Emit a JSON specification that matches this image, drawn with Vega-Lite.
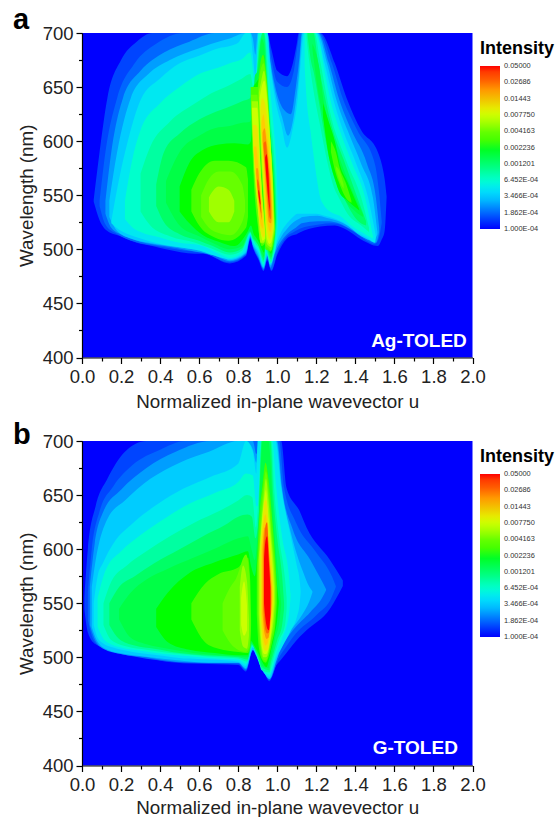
{"$schema":"https://vega.github.io/schema/vega-lite/v6.json","padding":{"left":13,"top":6,"right":0,"bottom":0},"background":"white","spacing":9,"config":{"view":{"fill":"#0000ff","stroke":null},"font":"Liberation Sans"},"resolve":{"scale":{"color":"independent"}},"datasets":{"a":[
{"i":0.000136,"g":"m05","u":0.06,"lo":544,"hi":546},{"i":0.000136,"g":"m05","u":0.09,"lo":527,"hi":590},{"i":0.000136,"g":"m05","u":0.13,"lo":517,"hi":640},{"i":0.000136,"g":"m05","u":0.2,"lo":512,"hi":675},{"i":0.000136,"g":"m05","u":0.28,"lo":506,"hi":692},{"i":0.000136,"g":"m05","u":0.36,"lo":503,"hi":700},{"i":0.000136,"g":"m05","u":0.43,"lo":500,"hi":700},{"i":0.000136,"g":"m05","u":0.58,"lo":496,"hi":700},{"i":0.000136,"g":"m05","u":0.62,"lo":496,"hi":700},{"i":0.000136,"g":"m05","u":0.757,"lo":487,"hi":700},{"i":0.000136,"g":"m05","u":0.84,"lo":494,"hi":700},{"i":0.000136,"g":"m05","u":0.862,"lo":509,"hi":700},{"i":0.000136,"g":"m05","u":0.878,"lo":500,"hi":700},{"i":0.000136,"g":"m05","u":0.905,"lo":490,"hi":700},{"i":0.000136,"g":"m05","u":0.93,"lo":480,"hi":700},{"i":0.000136,"g":"m05","u":0.948,"lo":490,"hi":700},{"i":0.000136,"g":"m05","u":0.97,"lo":480,"hi":685},{"i":0.000136,"g":"m05","u":1.0,"lo":495,"hi":665},{"i":0.000136,"g":"m05","u":1.05,"lo":510,"hi":660},{"i":0.000136,"g":"m05","u":1.08,"lo":513,"hi":672},{"i":0.000136,"g":"m05","u":1.1,"lo":514,"hi":690},{"i":0.000136,"g":"m05","u":1.11,"lo":515,"hi":700},{"i":0.000136,"g":"m05","u":1.22,"lo":521,"hi":700},{"i":0.000136,"g":"m05","u":1.295,"lo":522,"hi":672},{"i":0.000136,"g":"m05","u":1.355,"lo":518,"hi":640},{"i":0.000136,"g":"m05","u":1.43,"lo":509,"hi":610},{"i":0.000136,"g":"m05","u":1.515,"lo":503,"hi":590},{"i":0.000136,"g":"m05","u":1.535,"lo":509,"hi":579},{"i":0.000136,"g":"m05","u":1.55,"lo":517,"hi":565},{"i":0.000136,"g":"m05","u":1.56,"lo":548,"hi":549},
{"i":0.000186,"g":"m1","u":0.09,"lo":540,"hi":545},{"i":0.000186,"g":"m1","u":0.12,"lo":523,"hi":590},{"i":0.000186,"g":"m1","u":0.18,"lo":514,"hi":640},{"i":0.000186,"g":"m1","u":0.27,"lo":507,"hi":672},{"i":0.000186,"g":"m1","u":0.38,"lo":503,"hi":690},{"i":0.000186,"g":"m1","u":0.52,"lo":499,"hi":700},{"i":0.000186,"g":"m1","u":0.62,"lo":497,"hi":700},{"i":0.000186,"g":"m1","u":0.757,"lo":488,"hi":700},{"i":0.000186,"g":"m1","u":0.84,"lo":495,"hi":700},{"i":0.000186,"g":"m1","u":0.862,"lo":510,"hi":700},{"i":0.000186,"g":"m1","u":0.878,"lo":501,"hi":700},{"i":0.000186,"g":"m1","u":0.905,"lo":491,"hi":700},{"i":0.000186,"g":"m1","u":0.93,"lo":481,"hi":700},{"i":0.000186,"g":"m1","u":0.95,"lo":491,"hi":700},{"i":0.000186,"g":"m1","u":0.97,"lo":481,"hi":677},{"i":0.000186,"g":"m1","u":1.0,"lo":497,"hi":655},{"i":0.000186,"g":"m1","u":1.05,"lo":512,"hi":650},{"i":0.000186,"g":"m1","u":1.085,"lo":516,"hi":665},{"i":0.000186,"g":"m1","u":1.105,"lo":518,"hi":690},{"i":0.000186,"g":"m1","u":1.115,"lo":519,"hi":700},{"i":0.000186,"g":"m1","u":1.215,"lo":523,"hi":700},{"i":0.000186,"g":"m1","u":1.28,"lo":524,"hi":672},{"i":0.000186,"g":"m1","u":1.335,"lo":522,"hi":640},{"i":0.000186,"g":"m1","u":1.41,"lo":514,"hi":610},{"i":0.000186,"g":"m1","u":1.5,"lo":505,"hi":579},{"i":0.000186,"g":"m1","u":1.52,"lo":510,"hi":555},{"i":0.000186,"g":"m1","u":1.535,"lo":524,"hi":526},
{"i":0.000254,"g":"m15","u":0.12,"lo":533,"hi":545},{"i":0.000254,"g":"m15","u":0.15,"lo":520,"hi":590},{"i":0.000254,"g":"m15","u":0.21,"lo":513,"hi":640},{"i":0.000254,"g":"m15","u":0.3,"lo":507,"hi":665},{"i":0.000254,"g":"m15","u":0.42,"lo":503,"hi":682},{"i":0.000254,"g":"m15","u":0.55,"lo":499,"hi":692},{"i":0.000254,"g":"m15","u":0.68,"lo":494,"hi":700},{"i":0.000254,"g":"m15","u":0.757,"lo":489,"hi":700},{"i":0.000254,"g":"m15","u":0.84,"lo":496,"hi":700},{"i":0.000254,"g":"m15","u":0.862,"lo":511,"hi":700},{"i":0.000254,"g":"m15","u":0.878,"lo":502,"hi":700},{"i":0.000254,"g":"m15","u":0.905,"lo":492,"hi":700},{"i":0.000254,"g":"m15","u":0.93,"lo":482,"hi":700},{"i":0.000254,"g":"m15","u":0.95,"lo":493,"hi":700},{"i":0.000254,"g":"m15","u":0.965,"lo":483,"hi":675},{"i":0.000254,"g":"m15","u":0.99,"lo":497,"hi":650},{"i":0.000254,"g":"m15","u":1.03,"lo":510,"hi":630},{"i":0.000254,"g":"m15","u":1.07,"lo":517,"hi":625},{"i":0.000254,"g":"m15","u":1.095,"lo":520,"hi":650},{"i":0.000254,"g":"m15","u":1.115,"lo":523,"hi":680},{"i":0.000254,"g":"m15","u":1.125,"lo":524,"hi":700},{"i":0.000254,"g":"m15","u":1.21,"lo":526,"hi":700},{"i":0.000254,"g":"m15","u":1.265,"lo":526,"hi":672},{"i":0.000254,"g":"m15","u":1.315,"lo":524,"hi":640},{"i":0.000254,"g":"m15","u":1.38,"lo":518,"hi":610},{"i":0.000254,"g":"m15","u":1.46,"lo":509,"hi":579},{"i":0.000254,"g":"m15","u":1.505,"lo":506,"hi":548},{"i":0.000254,"g":"m15","u":1.522,"lo":516,"hi":520},
{"i":0.000347,"g":"m2","u":0.14,"lo":530,"hi":545},{"i":0.000347,"g":"m2","u":0.18,"lo":517,"hi":590},{"i":0.000347,"g":"m2","u":0.25,"lo":510,"hi":640},{"i":0.000347,"g":"m2","u":0.34,"lo":506,"hi":662},{"i":0.000347,"g":"m2","u":0.45,"lo":503,"hi":675},{"i":0.000347,"g":"m2","u":0.6,"lo":499,"hi":686},{"i":0.000347,"g":"m2","u":0.72,"lo":493,"hi":693},{"i":0.000347,"g":"m2","u":0.757,"lo":490,"hi":695},{"i":0.000347,"g":"m2","u":0.84,"lo":497,"hi":700},{"i":0.000347,"g":"m2","u":0.862,"lo":512,"hi":700},{"i":0.000347,"g":"m2","u":0.875,"lo":504,"hi":695},{"i":0.000347,"g":"m2","u":0.888,"lo":500,"hi":680},{"i":0.000347,"g":"m2","u":0.9,"lo":496,"hi":700},{"i":0.000347,"g":"m2","u":0.93,"lo":483,"hi":700},{"i":0.000347,"g":"m2","u":0.95,"lo":494,"hi":700},{"i":0.000347,"g":"m2","u":0.965,"lo":485,"hi":672},{"i":0.000347,"g":"m2","u":0.99,"lo":500,"hi":645},{"i":0.000347,"g":"m2","u":1.025,"lo":513,"hi":622},{"i":0.000347,"g":"m2","u":1.055,"lo":520,"hi":605},{"i":0.000347,"g":"m2","u":1.09,"lo":526,"hi":630},{"i":0.000347,"g":"m2","u":1.11,"lo":528,"hi":660},{"i":0.000347,"g":"m2","u":1.13,"lo":530,"hi":700},{"i":0.000347,"g":"m2","u":1.205,"lo":531,"hi":700},{"i":0.000347,"g":"m2","u":1.255,"lo":529,"hi":672},{"i":0.000347,"g":"m2","u":1.3,"lo":527,"hi":640},{"i":0.000347,"g":"m2","u":1.36,"lo":522,"hi":610},{"i":0.000347,"g":"m2","u":1.43,"lo":512,"hi":579},{"i":0.000347,"g":"m2","u":1.49,"lo":508,"hi":548},{"i":0.000347,"g":"m2","u":1.513,"lo":514,"hi":516},
{"i":0.000473,"g":"m25","u":0.15,"lo":524,"hi":526},{"i":0.000473,"g":"m25","u":0.19,"lo":518,"hi":565},{"i":0.000473,"g":"m25","u":0.236,"lo":514,"hi":601},{"i":0.000473,"g":"m25","u":0.3,"lo":510,"hi":638},{"i":0.000473,"g":"m25","u":0.4,"lo":505,"hi":658},{"i":0.000473,"g":"m25","u":0.5,"lo":502,"hi":672},{"i":0.000473,"g":"m25","u":0.6,"lo":499,"hi":679},{"i":0.000473,"g":"m25","u":0.7,"lo":493,"hi":686},{"i":0.000473,"g":"m25","u":0.757,"lo":491,"hi":688},{"i":0.000473,"g":"m25","u":0.8,"lo":493,"hi":691},{"i":0.000473,"g":"m25","u":0.84,"lo":499,"hi":700},{"i":0.000473,"g":"m25","u":0.862,"lo":513,"hi":700},{"i":0.000473,"g":"m25","u":0.875,"lo":506,"hi":680},{"i":0.000473,"g":"m25","u":0.888,"lo":502,"hi":660},{"i":0.000473,"g":"m25","u":0.905,"lo":497,"hi":700},{"i":0.000473,"g":"m25","u":0.93,"lo":484,"hi":700},{"i":0.000473,"g":"m25","u":0.948,"lo":496,"hi":700},{"i":0.000473,"g":"m25","u":0.963,"lo":486,"hi":672},{"i":0.000473,"g":"m25","u":0.988,"lo":502,"hi":640},{"i":0.000473,"g":"m25","u":1.02,"lo":516,"hi":616},{"i":0.000473,"g":"m25","u":1.05,"lo":524,"hi":594},{"i":0.000473,"g":"m25","u":1.08,"lo":530,"hi":612},{"i":0.000473,"g":"m25","u":1.105,"lo":533,"hi":640},{"i":0.000473,"g":"m25","u":1.12,"lo":533,"hi":672},{"i":0.000473,"g":"m25","u":1.137,"lo":533,"hi":700},{"i":0.000473,"g":"m25","u":1.2,"lo":533,"hi":700},{"i":0.000473,"g":"m25","u":1.243,"lo":531,"hi":672},{"i":0.000473,"g":"m25","u":1.285,"lo":529,"hi":640},{"i":0.000473,"g":"m25","u":1.337,"lo":525,"hi":610},{"i":0.000473,"g":"m25","u":1.405,"lo":516,"hi":579},{"i":0.000473,"g":"m25","u":1.465,"lo":510,"hi":548},{"i":0.000473,"g":"m25","u":1.5,"lo":506,"hi":517},{"i":0.000473,"g":"m25","u":1.505,"lo":511,"hi":512},
{"i":0.000645,"g":"m3","u":0.22,"lo":528,"hi":545},{"i":0.000645,"g":"m3","u":0.26,"lo":520,"hi":585},{"i":0.000645,"g":"m3","u":0.3,"lo":516,"hi":610},{"i":0.000645,"g":"m3","u":0.4,"lo":511,"hi":635},{"i":0.000645,"g":"m3","u":0.5,"lo":506,"hi":650},{"i":0.000645,"g":"m3","u":0.6,"lo":504,"hi":662},{"i":0.000645,"g":"m3","u":0.7,"lo":496,"hi":668},{"i":0.000645,"g":"m3","u":0.757,"lo":492,"hi":672},{"i":0.000645,"g":"m3","u":0.82,"lo":497,"hi":676},{"i":0.000645,"g":"m3","u":0.862,"lo":514,"hi":682},{"i":0.000645,"g":"m3","u":0.875,"lo":508,"hi":665},{"i":0.000645,"g":"m3","u":0.888,"lo":503,"hi":640},{"i":0.000645,"g":"m3","u":0.905,"lo":499,"hi":700},{"i":0.000645,"g":"m3","u":0.93,"lo":486,"hi":700},{"i":0.000645,"g":"m3","u":0.945,"lo":498,"hi":700},{"i":0.000645,"g":"m3","u":0.955,"lo":492,"hi":672},{"i":0.000645,"g":"m3","u":0.968,"lo":487,"hi":640},{"i":0.000645,"g":"m3","u":0.98,"lo":493,"hi":616},{"i":0.000645,"g":"m3","u":0.995,"lo":505,"hi":580},{"i":0.000645,"g":"m3","u":1.003,"lo":522,"hi":540},
{"i":0.000645,"g":"r3","u":1.14,"lo":670,"hi":700},{"i":0.000645,"g":"r3","u":1.15,"lo":640,"hi":700},{"i":0.000645,"g":"r3","u":1.17,"lo":610,"hi":700},{"i":0.000645,"g":"r3","u":1.195,"lo":575,"hi":700},{"i":0.000645,"g":"r3","u":1.22,"lo":548,"hi":688},{"i":0.000645,"g":"r3","u":1.235,"lo":542,"hi":672},{"i":0.000645,"g":"r3","u":1.27,"lo":535,"hi":640},{"i":0.000645,"g":"r3","u":1.32,"lo":531,"hi":610},{"i":0.000645,"g":"r3","u":1.385,"lo":521,"hi":579},{"i":0.000645,"g":"r3","u":1.45,"lo":514,"hi":548},{"i":0.000645,"g":"r3","u":1.49,"lo":510,"hi":512},
{"i":0.00088,"g":"m35","u":0.3,"lo":535,"hi":570},{"i":0.00088,"g":"m35","u":0.35,"lo":522,"hi":595},{"i":0.00088,"g":"m35","u":0.45,"lo":512,"hi":618},{"i":0.00088,"g":"m35","u":0.58,"lo":506,"hi":635},{"i":0.00088,"g":"m35","u":0.66,"lo":501,"hi":644},{"i":0.00088,"g":"m35","u":0.757,"lo":495,"hi":652},{"i":0.00088,"g":"m35","u":0.82,"lo":499,"hi":658},{"i":0.00088,"g":"m35","u":0.862,"lo":515,"hi":662},{"i":0.00088,"g":"m35","u":0.875,"lo":509,"hi":650},{"i":0.00088,"g":"m35","u":0.888,"lo":505,"hi":640},{"i":0.00088,"g":"m35","u":0.905,"lo":501,"hi":690},{"i":0.00088,"g":"m35","u":0.93,"lo":488,"hi":700},{"i":0.00088,"g":"m35","u":0.94,"lo":500,"hi":695},{"i":0.00088,"g":"m35","u":0.948,"lo":497,"hi":672},{"i":0.00088,"g":"m35","u":0.958,"lo":492,"hi":640},{"i":0.00088,"g":"m35","u":0.968,"lo":488,"hi":616},{"i":0.00088,"g":"m35","u":0.978,"lo":495,"hi":600},{"i":0.00088,"g":"m35","u":0.99,"lo":508,"hi":570},{"i":0.00088,"g":"m35","u":0.998,"lo":522,"hi":535},
{"i":0.00088,"g":"r35","u":1.15,"lo":695,"hi":700},{"i":0.00088,"g":"r35","u":1.165,"lo":672,"hi":700},{"i":0.00088,"g":"r35","u":1.19,"lo":642,"hi":700},{"i":0.00088,"g":"r35","u":1.22,"lo":614,"hi":674},{"i":0.00088,"g":"r35","u":1.255,"lo":582,"hi":640},{"i":0.00088,"g":"r35","u":1.295,"lo":555,"hi":610},{"i":0.00088,"g":"r35","u":1.315,"lo":548,"hi":600},{"i":0.00088,"g":"r35","u":1.36,"lo":533,"hi":579},{"i":0.00088,"g":"r35","u":1.43,"lo":522,"hi":548},{"i":0.00088,"g":"r35","u":1.47,"lo":516,"hi":520},
{"i":0.0012,"g":"m4","u":0.38,"lo":540,"hi":560},{"i":0.0012,"g":"m4","u":0.42,"lo":525,"hi":590},{"i":0.0012,"g":"m4","u":0.5,"lo":514,"hi":607},{"i":0.0012,"g":"m4","u":0.6,"lo":508,"hi":620},{"i":0.0012,"g":"m4","u":0.67,"lo":503,"hi":626},{"i":0.0012,"g":"m4","u":0.757,"lo":497,"hi":632},{"i":0.0012,"g":"m4","u":0.82,"lo":501,"hi":637},{"i":0.0012,"g":"m4","u":0.862,"lo":516,"hi":640},{"i":0.0012,"g":"m4","u":0.875,"lo":510,"hi":650},{"i":0.0012,"g":"m4","u":0.89,"lo":507,"hi":655},{"i":0.0012,"g":"m4","u":0.905,"lo":503,"hi":680},{"i":0.0012,"g":"m4","u":0.925,"lo":492,"hi":700},{"i":0.0012,"g":"m4","u":0.932,"lo":490,"hi":700},{"i":0.0012,"g":"m4","u":0.94,"lo":502,"hi":685},{"i":0.0012,"g":"m4","u":0.948,"lo":500,"hi":655},{"i":0.0012,"g":"m4","u":0.958,"lo":494,"hi":628},{"i":0.0012,"g":"m4","u":0.968,"lo":491,"hi":605},{"i":0.0012,"g":"m4","u":0.978,"lo":498,"hi":585},{"i":0.0012,"g":"m4","u":0.988,"lo":510,"hi":562},{"i":0.0012,"g":"m4","u":0.994,"lo":525,"hi":535},
{"i":0.0012,"g":"r4","u":1.155,"lo":698,"hi":700},{"i":0.0012,"g":"r4","u":1.175,"lo":672,"hi":700},{"i":0.0012,"g":"r4","u":1.185,"lo":665,"hi":700},{"i":0.0012,"g":"r4","u":1.21,"lo":640,"hi":672},{"i":0.0012,"g":"r4","u":1.245,"lo":603,"hi":640},{"i":0.0012,"g":"r4","u":1.285,"lo":570,"hi":610},{"i":0.0012,"g":"r4","u":1.34,"lo":548,"hi":583},{"i":0.0012,"g":"r4","u":1.41,"lo":527,"hi":548},{"i":0.0012,"g":"r4","u":1.455,"lo":522,"hi":526},
{"i":0.00164,"g":"m45","u":0.43,"lo":543,"hi":563},{"i":0.00164,"g":"m45","u":0.5,"lo":522,"hi":590},{"i":0.00164,"g":"m45","u":0.6,"lo":512,"hi":605},{"i":0.00164,"g":"m45","u":0.68,"lo":505,"hi":612},{"i":0.00164,"g":"m45","u":0.757,"lo":500,"hi":614},{"i":0.00164,"g":"m45","u":0.82,"lo":503,"hi":617},{"i":0.00164,"g":"m45","u":0.86,"lo":517,"hi":618},{"i":0.00164,"g":"m45","u":0.875,"lo":512,"hi":630},{"i":0.00164,"g":"m45","u":0.885,"lo":509,"hi":660},{"i":0.00164,"g":"m45","u":0.9,"lo":505,"hi":665},{"i":0.00164,"g":"m45","u":0.92,"lo":497,"hi":695},{"i":0.00164,"g":"m45","u":0.932,"lo":493,"hi":690},{"i":0.00164,"g":"m45","u":0.94,"lo":504,"hi":670},{"i":0.00164,"g":"m45","u":0.948,"lo":502,"hi":645},{"i":0.00164,"g":"m45","u":0.958,"lo":497,"hi":620},{"i":0.00164,"g":"m45","u":0.968,"lo":493,"hi":598},{"i":0.00164,"g":"m45","u":0.978,"lo":500,"hi":578},{"i":0.00164,"g":"m45","u":0.986,"lo":512,"hi":555},{"i":0.00164,"g":"m45","u":0.991,"lo":525,"hi":532},
{"i":0.00164,"g":"r45","u":1.18,"lo":685,"hi":690},{"i":0.00164,"g":"r45","u":1.215,"lo":640,"hi":668},{"i":0.00164,"g":"r45","u":1.235,"lo":622,"hi":640},{"i":0.00164,"g":"r45","u":1.275,"lo":585,"hi":610},{"i":0.00164,"g":"r45","u":1.33,"lo":552,"hi":579},{"i":0.00164,"g":"r45","u":1.4,"lo":535,"hi":548},{"i":0.00164,"g":"r45","u":1.44,"lo":530,"hi":532},
{"i":0.00224,"g":"m5","u":0.5,"lo":535,"hi":558},{"i":0.00224,"g":"m5","u":0.55,"lo":524,"hi":580},{"i":0.00224,"g":"m5","u":0.62,"lo":513,"hi":592},{"i":0.00224,"g":"m5","u":0.7,"lo":507,"hi":597},{"i":0.00224,"g":"m5","u":0.78,"lo":503,"hi":598},{"i":0.00224,"g":"m5","u":0.85,"lo":517,"hi":597},{"i":0.00224,"g":"m5","u":0.865,"lo":522,"hi":600},{"i":0.00224,"g":"m5","u":0.88,"lo":514,"hi":650},{"i":0.00224,"g":"m5","u":0.895,"lo":510,"hi":655},{"i":0.00224,"g":"m5","u":0.91,"lo":505,"hi":660},{"i":0.00224,"g":"m5","u":0.925,"lo":499,"hi":675},{"i":0.00224,"g":"m5","u":0.932,"lo":497,"hi":680},{"i":0.00224,"g":"m5","u":0.94,"lo":506,"hi":655},{"i":0.00224,"g":"m5","u":0.948,"lo":504,"hi":635},{"i":0.00224,"g":"m5","u":0.958,"lo":499,"hi":615},{"i":0.00224,"g":"m5","u":0.968,"lo":496,"hi":595},{"i":0.00224,"g":"m5","u":0.978,"lo":503,"hi":570},{"i":0.00224,"g":"m5","u":0.986,"lo":515,"hi":545},{"i":0.00224,"g":"m5","u":0.99,"lo":528,"hi":530},
{"i":0.00224,"g":"r5","u":1.235,"lo":622,"hi":635},{"i":0.00224,"g":"r5","u":1.26,"lo":590,"hi":620},{"i":0.00224,"g":"r5","u":1.295,"lo":565,"hi":600},{"i":0.00224,"g":"r5","u":1.32,"lo":552,"hi":579},{"i":0.00224,"g":"r5","u":1.36,"lo":545,"hi":562},{"i":0.00224,"g":"r5","u":1.42,"lo":536,"hi":537},
{"i":0.00305,"g":"d55","u":0.56,"lo":535,"hi":555},{"i":0.00305,"g":"d55","u":0.6,"lo":522,"hi":570},{"i":0.00305,"g":"d55","u":0.68,"lo":511,"hi":582},{"i":0.00305,"g":"d55","u":0.75,"lo":508,"hi":582},{"i":0.00305,"g":"d55","u":0.84,"lo":520,"hi":576},{"i":0.00305,"g":"d55","u":0.85,"lo":530,"hi":565},
{"i":0.00305,"g":"r55","u":1.275,"lo":590,"hi":600},{"i":0.00305,"g":"r55","u":1.3,"lo":570,"hi":590},{"i":0.00305,"g":"r55","u":1.32,"lo":560,"hi":575},{"i":0.00305,"g":"r55","u":1.35,"lo":548,"hi":562},{"i":0.00305,"g":"r55","u":1.38,"lo":543,"hi":545},
{"i":0.00305,"g":"A55","u":0.864,"lo":640,"hi":650},{"i":0.00305,"g":"A55","u":0.879,"lo":566,"hi":650},{"i":0.00305,"g":"A55","u":0.895,"lo":530,"hi":650},{"i":0.00305,"g":"A55","u":0.906,"lo":515,"hi":650},{"i":0.00305,"g":"A55","u":0.92,"lo":503,"hi":566},{"i":0.00305,"g":"A55","u":0.935,"lo":505,"hi":530},{"i":0.00305,"g":"A55","u":0.948,"lo":510,"hi":512},
{"i":0.00305,"g":"B55","u":0.9,"lo":640,"hi":650},{"i":0.00305,"g":"B55","u":0.912,"lo":590,"hi":670},{"i":0.00305,"g":"B55","u":0.928,"lo":545,"hi":680},{"i":0.00305,"g":"B55","u":0.94,"lo":500,"hi":668},{"i":0.00305,"g":"B55","u":0.954,"lo":499,"hi":640},{"i":0.00305,"g":"B55","u":0.966,"lo":498,"hi":598},{"i":0.00305,"g":"B55","u":0.978,"lo":503,"hi":566},{"i":0.00305,"g":"B55","u":0.989,"lo":515,"hi":520},
{"i":0.00416,"g":"d6","u":0.61,"lo":530,"hi":550},{"i":0.00416,"g":"d6","u":0.65,"lo":520,"hi":565},{"i":0.00416,"g":"d6","u":0.7,"lo":515,"hi":572},{"i":0.00416,"g":"d6","u":0.76,"lo":513,"hi":572},{"i":0.00416,"g":"d6","u":0.82,"lo":525,"hi":560},{"i":0.00416,"g":"d6","u":0.835,"lo":535,"hi":545},
{"i":0.00416,"g":"r6","u":1.3,"lo":574,"hi":577},{"i":0.00416,"g":"r6","u":1.32,"lo":563,"hi":572},{"i":0.00416,"g":"r6","u":1.34,"lo":556,"hi":560},
{"i":0.00416,"g":"A6","u":0.866,"lo":635,"hi":643},{"i":0.00416,"g":"A6","u":0.882,"lo":566,"hi":643},{"i":0.00416,"g":"A6","u":0.898,"lo":530,"hi":643},{"i":0.00416,"g":"A6","u":0.912,"lo":508,"hi":580},{"i":0.00416,"g":"A6","u":0.925,"lo":505,"hi":545},{"i":0.00416,"g":"A6","u":0.94,"lo":508,"hi":512},
{"i":0.00416,"g":"B6","u":0.903,"lo":640,"hi":648},{"i":0.00416,"g":"B6","u":0.914,"lo":590,"hi":665},{"i":0.00416,"g":"B6","u":0.93,"lo":545,"hi":672},{"i":0.00416,"g":"B6","u":0.942,"lo":503,"hi":660},{"i":0.00416,"g":"B6","u":0.955,"lo":501,"hi":630},{"i":0.00416,"g":"B6","u":0.967,"lo":499,"hi":595},{"i":0.00416,"g":"B6","u":0.977,"lo":505,"hi":566},{"i":0.00416,"g":"B6","u":0.987,"lo":517,"hi":522},
{"i":0.00568,"g":"d65","u":0.65,"lo":535,"hi":548},{"i":0.00568,"g":"d65","u":0.7,"lo":525,"hi":558},{"i":0.00568,"g":"d65","u":0.75,"lo":525,"hi":555},{"i":0.00568,"g":"d65","u":0.78,"lo":535,"hi":545},
{"i":0.00568,"g":"A65","u":0.869,"lo":630,"hi":637},{"i":0.00568,"g":"A65","u":0.885,"lo":566,"hi":637},{"i":0.00568,"g":"A65","u":0.9,"lo":537,"hi":637},{"i":0.00568,"g":"A65","u":0.915,"lo":506,"hi":575},{"i":0.00568,"g":"A65","u":0.93,"lo":506,"hi":535},{"i":0.00568,"g":"A65","u":0.94,"lo":510,"hi":514},
{"i":0.00568,"g":"B65","u":0.906,"lo":640,"hi":645},{"i":0.00568,"g":"B65","u":0.917,"lo":590,"hi":655},{"i":0.00568,"g":"B65","u":0.932,"lo":545,"hi":665},{"i":0.00568,"g":"B65","u":0.945,"lo":506,"hi":650},{"i":0.00568,"g":"B65","u":0.957,"lo":503,"hi":620},{"i":0.00568,"g":"B65","u":0.968,"lo":502,"hi":590},{"i":0.00568,"g":"B65","u":0.976,"lo":508,"hi":566},{"i":0.00568,"g":"B65","u":0.985,"lo":518,"hi":522},
{"i":0.00775,"g":"A7","u":0.871,"lo":625,"hi":631},{"i":0.00775,"g":"A7","u":0.887,"lo":566,"hi":631},{"i":0.00775,"g":"A7","u":0.897,"lo":545,"hi":631},{"i":0.00775,"g":"A7","u":0.91,"lo":523,"hi":590},{"i":0.00775,"g":"A7","u":0.925,"lo":508,"hi":541},{"i":0.00775,"g":"A7","u":0.937,"lo":510,"hi":515},
{"i":0.00775,"g":"B7","u":0.91,"lo":635,"hi":640},{"i":0.00775,"g":"B7","u":0.92,"lo":590,"hi":650},{"i":0.00775,"g":"B7","u":0.934,"lo":545,"hi":656},{"i":0.00775,"g":"B7","u":0.947,"lo":510,"hi":640},{"i":0.00775,"g":"B7","u":0.96,"lo":505,"hi":612},{"i":0.00775,"g":"B7","u":0.97,"lo":507,"hi":585},{"i":0.00775,"g":"B7","u":0.975,"lo":512,"hi":566},{"i":0.00775,"g":"B7","u":0.982,"lo":520,"hi":525},
{"i":0.0106,"g":"A75","u":0.875,"lo":605,"hi":615},{"i":0.0106,"g":"A75","u":0.889,"lo":566,"hi":615},{"i":0.0106,"g":"A75","u":0.899,"lo":545,"hi":612},{"i":0.0106,"g":"A75","u":0.915,"lo":517,"hi":558},{"i":0.0106,"g":"A75","u":0.93,"lo":511,"hi":532},{"i":0.0106,"g":"A75","u":0.937,"lo":513,"hi":515},
{"i":0.0106,"g":"B75","u":0.914,"lo":625,"hi":630},{"i":0.0106,"g":"B75","u":0.923,"lo":590,"hi":640},{"i":0.0106,"g":"B75","u":0.937,"lo":545,"hi":635},{"i":0.0106,"g":"B75","u":0.95,"lo":515,"hi":618},{"i":0.0106,"g":"B75","u":0.962,"lo":509,"hi":595},{"i":0.0106,"g":"B75","u":0.972,"lo":512,"hi":565},{"i":0.0106,"g":"B75","u":0.98,"lo":522,"hi":525},
{"i":0.0144,"g":"A8","u":0.88,"lo":590,"hi":595},{"i":0.0144,"g":"A8","u":0.892,"lo":566,"hi":595},{"i":0.0144,"g":"A8","u":0.902,"lo":545,"hi":580},{"i":0.0144,"g":"A8","u":0.915,"lo":523,"hi":551},{"i":0.0144,"g":"A8","u":0.928,"lo":519,"hi":522},
{"i":0.0144,"g":"B8","u":0.92,"lo":610,"hi":618},{"i":0.0144,"g":"B8","u":0.93,"lo":585,"hi":625},{"i":0.0144,"g":"B8","u":0.94,"lo":545,"hi":612},{"i":0.0144,"g":"B8","u":0.955,"lo":520,"hi":595},{"i":0.0144,"g":"B8","u":0.965,"lo":516,"hi":575},{"i":0.0144,"g":"B8","u":0.972,"lo":522,"hi":545},{"i":0.0144,"g":"B8","u":0.977,"lo":528,"hi":530},
{"i":0.0197,"g":"A85","u":0.892,"lo":570,"hi":575},{"i":0.0197,"g":"A85","u":0.9,"lo":553,"hi":575},{"i":0.0197,"g":"A85","u":0.91,"lo":538,"hi":558},{"i":0.0197,"g":"A85","u":0.922,"lo":527,"hi":530},
{"i":0.0197,"g":"B85","u":0.925,"lo":600,"hi":608},{"i":0.0197,"g":"B85","u":0.935,"lo":575,"hi":612},{"i":0.0197,"g":"B85","u":0.945,"lo":548,"hi":600},{"i":0.0197,"g":"B85","u":0.958,"lo":525,"hi":578},{"i":0.0197,"g":"B85","u":0.968,"lo":524,"hi":555},{"i":0.0197,"g":"B85","u":0.972,"lo":530,"hi":535},
{"i":0.0269,"g":"A9","u":0.897,"lo":560,"hi":565},{"i":0.0269,"g":"A9","u":0.905,"lo":548,"hi":562},{"i":0.0269,"g":"A9","u":0.913,"lo":537,"hi":548},{"i":0.0269,"g":"A9","u":0.918,"lo":533,"hi":535},
{"i":0.0269,"g":"B9","u":0.93,"lo":595,"hi":598},{"i":0.0269,"g":"B9","u":0.94,"lo":572,"hi":600},{"i":0.0269,"g":"B9","u":0.95,"lo":548,"hi":585},{"i":0.0269,"g":"B9","u":0.96,"lo":530,"hi":565},{"i":0.0269,"g":"B9","u":0.967,"lo":528,"hi":540},
{"i":0.05,"g":"A95","u":0.903,"lo":552,"hi":555},{"i":0.05,"g":"A95","u":0.908,"lo":545,"hi":553},{"i":0.05,"g":"A95","u":0.914,"lo":541,"hi":543},
{"i":0.05,"g":"B95","u":0.938,"lo":583,"hi":585},{"i":0.05,"g":"B95","u":0.945,"lo":565,"hi":588},{"i":0.05,"g":"B95","u":0.955,"lo":545,"hi":570},{"i":0.05,"g":"B95","u":0.962,"lo":535,"hi":540}
],"b":[
{"i":0.000136,"g":"m05","u":0.012,"lo":545,"hi":555},{"i":0.000136,"g":"m05","u":0.03,"lo":523,"hi":600},{"i":0.000136,"g":"m05","u":0.07,"lo":512,"hi":640},{"i":0.000136,"g":"m05","u":0.13,"lo":508,"hi":665},{"i":0.000136,"g":"m05","u":0.22,"lo":503,"hi":690},{"i":0.000136,"g":"m05","u":0.33,"lo":500,"hi":700},{"i":0.000136,"g":"m05","u":0.43,"lo":496,"hi":700},{"i":0.000136,"g":"m05","u":0.6,"lo":494,"hi":700},{"i":0.000136,"g":"m05","u":0.8,"lo":493,"hi":700},{"i":0.000136,"g":"m05","u":0.84,"lo":487,"hi":700},{"i":0.000136,"g":"m05","u":0.875,"lo":506,"hi":700},{"i":0.000136,"g":"m05","u":0.92,"lo":492,"hi":700},{"i":0.000136,"g":"m05","u":0.96,"lo":478,"hi":700},{"i":0.000136,"g":"m05","u":0.99,"lo":491,"hi":700},{"i":0.000136,"g":"m05","u":1.02,"lo":498,"hi":700},{"i":0.000136,"g":"m05","u":1.047,"lo":504,"hi":657},{"i":0.000136,"g":"m05","u":1.115,"lo":519,"hi":635},{"i":0.000136,"g":"m05","u":1.15,"lo":525,"hi":620},{"i":0.000136,"g":"m05","u":1.27,"lo":545,"hi":590},{"i":0.000136,"g":"m05","u":1.336,"lo":566,"hi":571},
{"i":0.000186,"g":"m1","u":0.03,"lo":535,"hi":560},{"i":0.000186,"g":"m1","u":0.05,"lo":520,"hi":600},{"i":0.000186,"g":"m1","u":0.09,"lo":510,"hi":635},{"i":0.000186,"g":"m1","u":0.16,"lo":505,"hi":658},{"i":0.000186,"g":"m1","u":0.26,"lo":501,"hi":678},{"i":0.000186,"g":"m1","u":0.4,"lo":497,"hi":692},{"i":0.000186,"g":"m1","u":0.53,"lo":495,"hi":700},{"i":0.000186,"g":"m1","u":0.8,"lo":494,"hi":700},{"i":0.000186,"g":"m1","u":0.84,"lo":488,"hi":700},{"i":0.000186,"g":"m1","u":0.875,"lo":507,"hi":700},{"i":0.000186,"g":"m1","u":0.92,"lo":494,"hi":700},{"i":0.000186,"g":"m1","u":0.96,"lo":479,"hi":700},{"i":0.000186,"g":"m1","u":1.01,"lo":500,"hi":700},{"i":0.000186,"g":"m1","u":1.035,"lo":507,"hi":657},{"i":0.000186,"g":"m1","u":1.095,"lo":522,"hi":625},{"i":0.000186,"g":"m1","u":1.2,"lo":539,"hi":597},{"i":0.000186,"g":"m1","u":1.28,"lo":556,"hi":575},{"i":0.000186,"g":"m1","u":1.3,"lo":565,"hi":566},
{"i":0.000254,"g":"m15","u":0.04,"lo":530,"hi":565},{"i":0.000254,"g":"m15","u":0.065,"lo":517,"hi":605},{"i":0.000254,"g":"m15","u":0.11,"lo":508,"hi":635},{"i":0.000254,"g":"m15","u":0.2,"lo":503,"hi":655},{"i":0.000254,"g":"m15","u":0.33,"lo":500,"hi":675},{"i":0.000254,"g":"m15","u":0.48,"lo":496,"hi":690},{"i":0.000254,"g":"m15","u":0.66,"lo":495,"hi":700},{"i":0.000254,"g":"m15","u":0.8,"lo":495,"hi":700},{"i":0.000254,"g":"m15","u":0.84,"lo":489,"hi":700},{"i":0.000254,"g":"m15","u":0.875,"lo":507,"hi":700},{"i":0.000254,"g":"m15","u":0.893,"lo":502,"hi":688},{"i":0.000254,"g":"m15","u":0.91,"lo":497,"hi":700},{"i":0.000254,"g":"m15","u":0.96,"lo":480,"hi":700},{"i":0.000254,"g":"m15","u":1.0,"lo":499,"hi":700},{"i":0.000254,"g":"m15","u":1.025,"lo":510,"hi":657},{"i":0.000254,"g":"m15","u":1.08,"lo":525,"hi":618},{"i":0.000254,"g":"m15","u":1.17,"lo":542,"hi":590},{"i":0.000254,"g":"m15","u":1.23,"lo":555,"hi":570},{"i":0.000254,"g":"m15","u":1.25,"lo":562,"hi":563},
{"i":0.000347,"g":"m2","u":0.05,"lo":528,"hi":565},{"i":0.000347,"g":"m2","u":0.075,"lo":516,"hi":595},{"i":0.000347,"g":"m2","u":0.13,"lo":507,"hi":628},{"i":0.000347,"g":"m2","u":0.22,"lo":503,"hi":645},{"i":0.000347,"g":"m2","u":0.35,"lo":500,"hi":665},{"i":0.000347,"g":"m2","u":0.5,"lo":497,"hi":680},{"i":0.000347,"g":"m2","u":0.65,"lo":495,"hi":690},{"i":0.000347,"g":"m2","u":0.8,"lo":495,"hi":700},{"i":0.000347,"g":"m2","u":0.84,"lo":490,"hi":700},{"i":0.000347,"g":"m2","u":0.875,"lo":507,"hi":692},{"i":0.000347,"g":"m2","u":0.893,"lo":501,"hi":680},{"i":0.000347,"g":"m2","u":0.905,"lo":497,"hi":700},{"i":0.000347,"g":"m2","u":0.96,"lo":480,"hi":700},{"i":0.000347,"g":"m2","u":0.995,"lo":497,"hi":700},{"i":0.000347,"g":"m2","u":1.022,"lo":511,"hi":657},{"i":0.000347,"g":"m2","u":1.07,"lo":525,"hi":615},{"i":0.000347,"g":"m2","u":1.13,"lo":540,"hi":580},{"i":0.000347,"g":"m2","u":1.165,"lo":552,"hi":565},{"i":0.000347,"g":"m2","u":1.18,"lo":560,"hi":561},
{"i":0.000473,"g":"m25","u":0.06,"lo":530,"hi":550},{"i":0.000473,"g":"m25","u":0.08,"lo":518,"hi":575},{"i":0.000473,"g":"m25","u":0.107,"lo":513,"hi":587},{"i":0.000473,"g":"m25","u":0.16,"lo":509,"hi":605},{"i":0.000473,"g":"m25","u":0.26,"lo":505,"hi":624},{"i":0.000473,"g":"m25","u":0.39,"lo":502,"hi":642},{"i":0.000473,"g":"m25","u":0.52,"lo":499,"hi":656},{"i":0.000473,"g":"m25","u":0.66,"lo":498,"hi":667},{"i":0.000473,"g":"m25","u":0.8,"lo":496,"hi":679},{"i":0.000473,"g":"m25","u":0.84,"lo":492,"hi":700},{"i":0.000473,"g":"m25","u":0.875,"lo":509,"hi":690},{"i":0.000473,"g":"m25","u":0.893,"lo":503,"hi":670},{"i":0.000473,"g":"m25","u":0.9,"lo":498,"hi":700},{"i":0.000473,"g":"m25","u":0.96,"lo":482,"hi":700},{"i":0.000473,"g":"m25","u":0.97,"lo":486,"hi":700},{"i":0.000473,"g":"m25","u":0.99,"lo":498,"hi":700},{"i":0.000473,"g":"m25","u":1.02,"lo":508,"hi":657},{"i":0.000473,"g":"m25","u":1.07,"lo":525,"hi":611},{"i":0.000473,"g":"m25","u":1.1,"lo":537,"hi":585},{"i":0.000473,"g":"m25","u":1.115,"lo":550,"hi":571},{"i":0.000473,"g":"m25","u":1.12,"lo":560,"hi":561},
{"i":0.000645,"g":"m3","u":0.08,"lo":528,"hi":555},{"i":0.000645,"g":"m3","u":0.12,"lo":515,"hi":580},{"i":0.000645,"g":"m3","u":0.2,"lo":509,"hi":598},{"i":0.000645,"g":"m3","u":0.3,"lo":506,"hi":613},{"i":0.000645,"g":"m3","u":0.42,"lo":503,"hi":628},{"i":0.000645,"g":"m3","u":0.55,"lo":501,"hi":642},{"i":0.000645,"g":"m3","u":0.68,"lo":499,"hi":652},{"i":0.000645,"g":"m3","u":0.8,"lo":498,"hi":662},{"i":0.000645,"g":"m3","u":0.84,"lo":494,"hi":670},{"i":0.000645,"g":"m3","u":0.875,"lo":510,"hi":668},{"i":0.000645,"g":"m3","u":0.893,"lo":504,"hi":640},{"i":0.000645,"g":"m3","u":0.905,"lo":497,"hi":640},{"i":0.000645,"g":"m3","u":0.915,"lo":492,"hi":700},{"i":0.000645,"g":"m3","u":0.96,"lo":484,"hi":700},{"i":0.000645,"g":"m3","u":0.975,"lo":490,"hi":700},{"i":0.000645,"g":"m3","u":0.995,"lo":503,"hi":657},{"i":0.000645,"g":"m3","u":1.025,"lo":517,"hi":611},{"i":0.000645,"g":"m3","u":1.06,"lo":540,"hi":575},{"i":0.000645,"g":"m3","u":1.068,"lo":555,"hi":558},
{"i":0.00088,"g":"m35","u":0.11,"lo":530,"hi":550},{"i":0.00088,"g":"m35","u":0.15,"lo":516,"hi":570},{"i":0.00088,"g":"m35","u":0.23,"lo":510,"hi":585},{"i":0.00088,"g":"m35","u":0.33,"lo":507,"hi":598},{"i":0.00088,"g":"m35","u":0.45,"lo":504,"hi":612},{"i":0.00088,"g":"m35","u":0.58,"lo":502,"hi":625},{"i":0.00088,"g":"m35","u":0.7,"lo":500,"hi":635},{"i":0.00088,"g":"m35","u":0.8,"lo":499,"hi":645},{"i":0.00088,"g":"m35","u":0.845,"lo":496,"hi":650},{"i":0.00088,"g":"m35","u":0.872,"lo":511,"hi":648},{"i":0.00088,"g":"m35","u":0.89,"lo":505,"hi":620},{"i":0.00088,"g":"m35","u":0.905,"lo":497,"hi":650},{"i":0.00088,"g":"m35","u":0.92,"lo":488,"hi":700},{"i":0.00088,"g":"m35","u":0.96,"lo":486,"hi":700},{"i":0.00088,"g":"m35","u":0.97,"lo":492,"hi":700},{"i":0.00088,"g":"m35","u":0.985,"lo":502,"hi":655},{"i":0.00088,"g":"m35","u":1.01,"lo":516,"hi":610},{"i":0.00088,"g":"m35","u":1.04,"lo":530,"hi":572},{"i":0.00088,"g":"m35","u":1.048,"lo":545,"hi":555},
{"i":0.0012,"g":"m4","u":0.14,"lo":530,"hi":550},{"i":0.0012,"g":"m4","u":0.19,"lo":517,"hi":565},{"i":0.0012,"g":"m4","u":0.27,"lo":511,"hi":575},{"i":0.0012,"g":"m4","u":0.37,"lo":508,"hi":587},{"i":0.0012,"g":"m4","u":0.5,"lo":504,"hi":600},{"i":0.0012,"g":"m4","u":0.62,"lo":502,"hi":612},{"i":0.0012,"g":"m4","u":0.73,"lo":501,"hi":622},{"i":0.0012,"g":"m4","u":0.8,"lo":500,"hi":630},{"i":0.0012,"g":"m4","u":0.848,"lo":498,"hi":632},{"i":0.0012,"g":"m4","u":0.87,"lo":512,"hi":630},{"i":0.0012,"g":"m4","u":0.888,"lo":506,"hi":610},{"i":0.0012,"g":"m4","u":0.905,"lo":499,"hi":630},{"i":0.0012,"g":"m4","u":0.92,"lo":491,"hi":700},{"i":0.0012,"g":"m4","u":0.96,"lo":488,"hi":700},{"i":0.0012,"g":"m4","u":0.965,"lo":493,"hi":700},{"i":0.0012,"g":"m4","u":0.98,"lo":503,"hi":650},{"i":0.0012,"g":"m4","u":1.0,"lo":516,"hi":610},{"i":0.0012,"g":"m4","u":1.025,"lo":530,"hi":575},{"i":0.0012,"g":"m4","u":1.035,"lo":545,"hi":550},
{"i":0.00164,"g":"m45","u":0.19,"lo":535,"hi":545},{"i":0.00164,"g":"m45","u":0.25,"lo":518,"hi":560},{"i":0.00164,"g":"m45","u":0.33,"lo":512,"hi":572},{"i":0.00164,"g":"m45","u":0.44,"lo":508,"hi":582},{"i":0.00164,"g":"m45","u":0.57,"lo":504,"hi":592},{"i":0.00164,"g":"m45","u":0.7,"lo":502,"hi":602},{"i":0.00164,"g":"m45","u":0.8,"lo":501,"hi":610},{"i":0.00164,"g":"m45","u":0.85,"lo":500,"hi":612},{"i":0.00164,"g":"m45","u":0.868,"lo":513,"hi":600},{"i":0.00164,"g":"m45","u":0.885,"lo":508,"hi":590},{"i":0.00164,"g":"m45","u":0.905,"lo":501,"hi":630},{"i":0.00164,"g":"m45","u":0.925,"lo":492,"hi":700},{"i":0.00164,"g":"m45","u":0.955,"lo":490,"hi":700},{"i":0.00164,"g":"m45","u":0.962,"lo":495,"hi":690},{"i":0.00164,"g":"m45","u":0.975,"lo":505,"hi":645},{"i":0.00164,"g":"m45","u":0.99,"lo":518,"hi":605},{"i":0.00164,"g":"m45","u":1.01,"lo":532,"hi":570},{"i":0.00164,"g":"m45","u":1.02,"lo":548,"hi":550},
{"i":0.00224,"g":"m5","u":0.38,"lo":528,"hi":545},{"i":0.00224,"g":"m5","u":0.44,"lo":514,"hi":560},{"i":0.00224,"g":"m5","u":0.55,"lo":507,"hi":578},{"i":0.00224,"g":"m5","u":0.68,"lo":504,"hi":588},{"i":0.00224,"g":"m5","u":0.8,"lo":502,"hi":595},{"i":0.00224,"g":"m5","u":0.85,"lo":502,"hi":598},{"i":0.00224,"g":"m5","u":0.865,"lo":515,"hi":585},{"i":0.00224,"g":"m5","u":0.885,"lo":510,"hi":575},{"i":0.00224,"g":"m5","u":0.905,"lo":503,"hi":610},{"i":0.00224,"g":"m5","u":0.925,"lo":495,"hi":660},{"i":0.00224,"g":"m5","u":0.945,"lo":491,"hi":675},{"i":0.00224,"g":"m5","u":0.957,"lo":497,"hi":660},{"i":0.00224,"g":"m5","u":0.97,"lo":508,"hi":630},{"i":0.00224,"g":"m5","u":0.985,"lo":520,"hi":600},{"i":0.00224,"g":"m5","u":1.0,"lo":535,"hi":565},{"i":0.00224,"g":"m5","u":1.008,"lo":550,"hi":552},
{"i":0.00305,"g":"d55","u":0.56,"lo":535,"hi":550},{"i":0.00305,"g":"d55","u":0.63,"lo":514,"hi":568},{"i":0.00305,"g":"d55","u":0.7,"lo":508,"hi":577},{"i":0.00305,"g":"d55","u":0.8,"lo":505,"hi":583},{"i":0.00305,"g":"d55","u":0.85,"lo":504,"hi":592},{"i":0.00305,"g":"d55","u":0.862,"lo":510,"hi":570},{"i":0.00305,"g":"d55","u":0.866,"lo":530,"hi":535},
{"i":0.00305,"g":"B55","u":0.895,"lo":540,"hi":580},{"i":0.00305,"g":"B55","u":0.905,"lo":510,"hi":620},{"i":0.00305,"g":"B55","u":0.925,"lo":497,"hi":660},{"i":0.00305,"g":"B55","u":0.94,"lo":495,"hi":680},{"i":0.00305,"g":"B55","u":0.955,"lo":500,"hi":665},{"i":0.00305,"g":"B55","u":0.975,"lo":515,"hi":625},{"i":0.00305,"g":"B55","u":0.99,"lo":530,"hi":590},{"i":0.00305,"g":"B55","u":0.998,"lo":550,"hi":565},
{"i":0.00416,"g":"d6","u":0.72,"lo":525,"hi":550},{"i":0.00416,"g":"d6","u":0.76,"lo":513,"hi":565},{"i":0.00416,"g":"d6","u":0.79,"lo":508,"hi":573},{"i":0.00416,"g":"d6","u":0.84,"lo":505,"hi":595},{"i":0.00416,"g":"d6","u":0.858,"lo":510,"hi":575},{"i":0.00416,"g":"d6","u":0.863,"lo":525,"hi":540},
{"i":0.00416,"g":"B6","u":0.9,"lo":540,"hi":585},{"i":0.00416,"g":"B6","u":0.912,"lo":510,"hi":620},{"i":0.00416,"g":"B6","u":0.928,"lo":498,"hi":655},{"i":0.00416,"g":"B6","u":0.942,"lo":497,"hi":672},{"i":0.00416,"g":"B6","u":0.955,"lo":503,"hi":655},{"i":0.00416,"g":"B6","u":0.972,"lo":518,"hi":615},{"i":0.00416,"g":"B6","u":0.987,"lo":532,"hi":585},{"i":0.00416,"g":"B6","u":0.993,"lo":550,"hi":565},
{"i":0.00568,"g":"d65","u":0.808,"lo":525,"hi":565},{"i":0.00568,"g":"d65","u":0.825,"lo":510,"hi":585},{"i":0.00568,"g":"d65","u":0.845,"lo":508,"hi":570},{"i":0.00568,"g":"d65","u":0.855,"lo":520,"hi":535},
{"i":0.00568,"g":"B65","u":0.905,"lo":540,"hi":590},{"i":0.00568,"g":"B65","u":0.917,"lo":510,"hi":620},{"i":0.00568,"g":"B65","u":0.93,"lo":500,"hi":648},{"i":0.00568,"g":"B65","u":0.942,"lo":500,"hi":665},{"i":0.00568,"g":"B65","u":0.955,"lo":505,"hi":645},{"i":0.00568,"g":"B65","u":0.97,"lo":520,"hi":610},{"i":0.00568,"g":"B65","u":0.982,"lo":535,"hi":585},{"i":0.00568,"g":"B65","u":0.988,"lo":550,"hi":565},
{"i":0.00775,"g":"d7","u":0.815,"lo":530,"hi":555},{"i":0.00775,"g":"d7","u":0.83,"lo":520,"hi":570},{"i":0.00775,"g":"d7","u":0.845,"lo":525,"hi":548},
{"i":0.00775,"g":"B7","u":0.91,"lo":540,"hi":595},{"i":0.00775,"g":"B7","u":0.921,"lo":510,"hi":625},{"i":0.00775,"g":"B7","u":0.933,"lo":503,"hi":645},{"i":0.00775,"g":"B7","u":0.942,"lo":503,"hi":655},{"i":0.00775,"g":"B7","u":0.955,"lo":508,"hi":630},{"i":0.00775,"g":"B7","u":0.968,"lo":522,"hi":605},{"i":0.00775,"g":"B7","u":0.978,"lo":538,"hi":580},{"i":0.00775,"g":"B7","u":0.983,"lo":550,"hi":565},
{"i":0.0106,"g":"B75","u":0.915,"lo":540,"hi":600},{"i":0.0106,"g":"B75","u":0.926,"lo":512,"hi":628},{"i":0.0106,"g":"B75","u":0.936,"lo":506,"hi":645},{"i":0.0106,"g":"B75","u":0.945,"lo":506,"hi":645},{"i":0.0106,"g":"B75","u":0.956,"lo":510,"hi":620},{"i":0.0106,"g":"B75","u":0.966,"lo":525,"hi":600},{"i":0.0106,"g":"B75","u":0.975,"lo":540,"hi":578},{"i":0.0106,"g":"B75","u":0.98,"lo":555,"hi":562},
{"i":0.0144,"g":"B8","u":0.92,"lo":540,"hi":600},{"i":0.0144,"g":"B8","u":0.93,"lo":517,"hi":625},{"i":0.0144,"g":"B8","u":0.94,"lo":511,"hi":632},{"i":0.0144,"g":"B8","u":0.95,"lo":513,"hi":620},{"i":0.0144,"g":"B8","u":0.962,"lo":527,"hi":590},{"i":0.0144,"g":"B8","u":0.972,"lo":545,"hi":570},{"i":0.0144,"g":"B8","u":0.975,"lo":555,"hi":560},
{"i":0.0197,"g":"B85","u":0.925,"lo":540,"hi":600},{"i":0.0197,"g":"B85","u":0.935,"lo":522,"hi":620},{"i":0.0197,"g":"B85","u":0.945,"lo":517,"hi":620},{"i":0.0197,"g":"B85","u":0.955,"lo":518,"hi":605},{"i":0.0197,"g":"B85","u":0.965,"lo":532,"hi":580},{"i":0.0197,"g":"B85","u":0.972,"lo":550,"hi":560},
{"i":0.0269,"g":"B9","u":0.93,"lo":545,"hi":595},{"i":0.0269,"g":"B9","u":0.94,"lo":525,"hi":622},{"i":0.0269,"g":"B9","u":0.948,"lo":522,"hi":625},{"i":0.0269,"g":"B9","u":0.957,"lo":523,"hi":595},{"i":0.0269,"g":"B9","u":0.965,"lo":538,"hi":572},{"i":0.0269,"g":"B9","u":0.968,"lo":550,"hi":555},
{"i":0.05,"g":"B95","u":0.932,"lo":550,"hi":590},{"i":0.05,"g":"B95","u":0.94,"lo":535,"hi":608},{"i":0.05,"g":"B95","u":0.948,"lo":527,"hi":612},{"i":0.05,"g":"B95","u":0.957,"lo":525,"hi":588},{"i":0.05,"g":"B95","u":0.965,"lo":540,"hi":565}
],"la":[{"t":"a","u":-0.353,"w":703.4}],"ta":[{"t":"Ag-TOLED","u":1.971,"w":409.8}],"lb":[{"t":"b","u":-0.353,"w":697.6}],"tb":[{"t":"G-TOLED","u":1.925,"w":410.4}]},"vconcat":[{"width":390.5,"height":324.5,"layer":[{"data":{"name":"a"},"mark":{"type":"area","interpolate":"monotone","clip":true},"encoding":{"x":{"field":"u","type":"quantitative","scale":{"domain":[0,2],"nice":false},"axis":{"values":[0,0.1,0.2,0.3,0.4,0.5,0.6,0.7,0.8,0.9,1,1.1,1.2,1.3,1.4,1.5,1.6,1.7,1.8,1.9,2],"tickCount":100,"labelFlush":false,"labelExpr":"round(datum.value*10)%2==0?format(datum.value,'.1f'):''","tickSize":{"expr":"round(datum.value*10)%2==0?6:3.5"},"labelOverlap":false,"labelFontSize":18.5,"labelColor":"#222","titleFontSize":18.8,"titleColor":"#222","titleFontWeight":"normal","title":"Normalized in-plane wavevector u","grid":false,"domainColor":"#000","tickColor":"#000","tickWidth":1.2,"domainWidth":1.2,"labelPadding":4,"titlePadding":6}},"y":{"field":"lo","type":"quantitative","scale":{"domain":[400,700],"nice":false,"zero":false},"axis":{"values":[400,425,450,475,500,525,550,575,600,625,650,675,700],"tickCount":100,"labelFlush":false,"labelExpr":"datum.value%50==0?format(datum.value,'d'):''","tickSize":{"expr":"datum.value%50==0?6:3.5"},"labelOverlap":false,"labelFontSize":18.5,"labelColor":"#222","titleFontSize":18.8,"titleColor":"#222","titleFontWeight":"normal","title":"Wavelength (nm)","grid":false,"domainColor":"#000","tickColor":"#000","tickWidth":1.2,"domainWidth":1.2,"labelPadding":3,"titlePadding":6}},"y2":{"field":"hi"},"detail":{"field":"g"},"color":{"field":"i","type":"quantitative","scale":{"type":"log","domain":[0.0001,0.0001862,0.0003466,0.0006452,0.001201,0.002236,0.004163,0.00775,0.01443,0.02686,0.05],"range":["#0000ff","#0066ff","#00ccff","#00ffcc","#00ff66","#00ff00","#66ff00","#ccff00","#ffcc00","#ff6600","#ff0000"]},"legend":{"orient":"none","legendX":398,"legendY":7,"title":"Intensity","titleFontSize":18,"titleFontWeight":"bold","titleColor":"#000","titlePadding":8,"gradientLength":163,"gradientThickness":20,"gradientStrokeWidth":0,"values":[0.0001,0.0001862,0.0003466,0.0006452,0.001201,0.002236,0.004163,0.00775,0.01443,0.02686,0.05],"labelExpr":"datum.value<0.001?replace(format(datum.value,'.3e'),'e-4','E-04'):format(datum.value,'.4r')","labelFontSize":7.4,"labelColor":"#333","labelOverlap":false,"labelOffset":4,"encoding":{"labels":{"baseline":{"value":"middle"}}}}}}},{"data":{"name":"la"},"mark":{"type":"text","align":"left","baseline":"alphabetic","fontSize":29,"fontWeight":"bold","color":"#000","clip":false},"encoding":{"x":{"field":"u","type":"quantitative"},"y":{"field":"w","type":"quantitative"},"text":{"field":"t"}}},{"data":{"name":"ta"},"mark":{"type":"text","align":"right","baseline":"alphabetic","fontSize":19,"fontWeight":"bold","color":"#fff"},"encoding":{"x":{"field":"u","type":"quantitative"},"y":{"field":"w","type":"quantitative"},"text":{"field":"t"}}}]},{"width":390.5,"height":324.5,"layer":[{"data":{"name":"b"},"mark":{"type":"area","interpolate":"monotone","clip":true},"encoding":{"x":{"field":"u","type":"quantitative","scale":{"domain":[0,2],"nice":false},"axis":{"values":[0,0.1,0.2,0.3,0.4,0.5,0.6,0.7,0.8,0.9,1,1.1,1.2,1.3,1.4,1.5,1.6,1.7,1.8,1.9,2],"tickCount":100,"labelFlush":false,"labelExpr":"round(datum.value*10)%2==0?format(datum.value,'.1f'):''","tickSize":{"expr":"round(datum.value*10)%2==0?6:3.5"},"labelOverlap":false,"labelFontSize":18.5,"labelColor":"#222","titleFontSize":18.8,"titleColor":"#222","titleFontWeight":"normal","title":"Normalized in-plane wavevector u","grid":false,"domainColor":"#000","tickColor":"#000","tickWidth":1.2,"domainWidth":1.2,"labelPadding":4,"titlePadding":4}},"y":{"field":"lo","type":"quantitative","scale":{"domain":[400,700],"nice":false,"zero":false},"axis":{"values":[400,425,450,475,500,525,550,575,600,625,650,675,700],"tickCount":100,"labelFlush":false,"labelExpr":"datum.value%50==0?format(datum.value,'d'):''","tickSize":{"expr":"datum.value%50==0?6:3.5"},"labelOverlap":false,"labelFontSize":18.5,"labelColor":"#222","titleFontSize":18.8,"titleColor":"#222","titleFontWeight":"normal","title":"Wavelength (nm)","grid":false,"domainColor":"#000","tickColor":"#000","tickWidth":1.2,"domainWidth":1.2,"labelPadding":3,"titlePadding":6}},"y2":{"field":"hi"},"detail":{"field":"g"},"color":{"field":"i","type":"quantitative","scale":{"type":"log","domain":[0.0001,0.0001862,0.0003466,0.0006452,0.001201,0.002236,0.004163,0.00775,0.01443,0.02686,0.05],"range":["#0000ff","#0066ff","#00ccff","#00ffcc","#00ff66","#00ff00","#66ff00","#ccff00","#ffcc00","#ff6600","#ff0000"]},"legend":{"orient":"none","legendX":398,"legendY":7,"title":"Intensity","titleFontSize":18,"titleFontWeight":"bold","titleColor":"#000","titlePadding":8,"gradientLength":163,"gradientThickness":20,"gradientStrokeWidth":0,"values":[0.0001,0.0001862,0.0003466,0.0006452,0.001201,0.002236,0.004163,0.00775,0.01443,0.02686,0.05],"labelExpr":"datum.value<0.001?replace(format(datum.value,'.3e'),'e-4','E-04'):format(datum.value,'.4r')","labelFontSize":7.4,"labelColor":"#333","labelOverlap":false,"labelOffset":4,"encoding":{"labels":{"baseline":{"value":"middle"}}}}}}},{"data":{"name":"lb"},"mark":{"type":"text","align":"left","baseline":"alphabetic","fontSize":29,"fontWeight":"bold","color":"#000","clip":false},"encoding":{"x":{"field":"u","type":"quantitative"},"y":{"field":"w","type":"quantitative"},"text":{"field":"t"}}},{"data":{"name":"tb"},"mark":{"type":"text","align":"right","baseline":"alphabetic","fontSize":19,"fontWeight":"bold","color":"#fff"},"encoding":{"x":{"field":"u","type":"quantitative"},"y":{"field":"w","type":"quantitative"},"text":{"field":"t"}}}]}]}
